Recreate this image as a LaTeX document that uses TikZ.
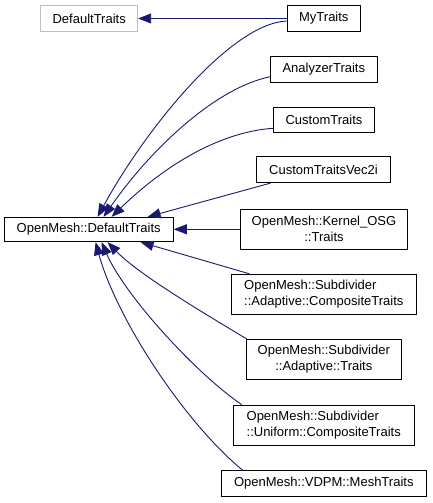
\documentclass[tikz,border=0pt]{standalone}
\usepackage{fontspec}
\setmainfont{Liberation Sans}
\usetikzlibrary{arrows.meta,calc}
\definecolor{edgeblue}{HTML}{191970}
\definecolor{graybd}{HTML}{BFBFBF}
\begin{document}
\begin{tikzpicture}[x=1pt,y=-1pt,
  cls/.style={draw=black, line width=0.9pt, inner sep=0pt, font=\fontsize{13}{16}\selectfont, minimum height=25.5pt, fill=white},
  cls2/.style={cls, minimum height=40pt},
  edge/.style={draw=edgeblue, line width=0.9pt, -{Triangle[length=13pt,width=10pt,fill=edgeblue]}}]
\useasboundingbox (0,0) rectangle (432,503);
\fill[white] (0,0) rectangle (432,503);
\node[cls, draw=graybd, minimum width=97pt] (dt) at (89.2,18.5) {DefaultTraits};
\node[cls, minimum width=73.7pt] (my) at (323.8,18.5) {MyTraits};
\node[cls, minimum width=106.3pt] (an) at (323.8,69.2) {AnalyzerTraits};
\node[cls, minimum width=101.4pt] (cu) at (324,120) {CustomTraits};
\node[cls, minimum width=134.4pt, minimum height=26.5pt] (v2) at (323.5,169.4) {CustomTraitsVec2i};
\node[cls, minimum width=169.3pt, minimum height=24.4pt] (odt) at (88.7,229.5) {OpenMesh::DefaultTraits};
\node[cls2, minimum width=166.6pt, align=center] (osg) at (324,229.3) {OpenMesh::Kernel\_OSG\\::Traits};
\node[cls2, minimum width=185pt, align=left] (acp) at (323.8,294.3) {OpenMesh::Subdivider\\::Adaptive::CompositeTraits};
\node[cls2, minimum width=155pt, align=center] (atr) at (323.8,359.3) {OpenMesh::Subdivider\\::Adaptive::Traits};
\node[cls2, minimum width=180.7pt, align=left] (ucp) at (323.7,425) {OpenMesh::Subdivider\\::Uniform::CompositeTraits};
\node[cls, minimum width=205.7pt] (vdpm) at (323.8,483.3) {OpenMesh::VDPM::MeshTraits};

\draw[edge] (my.west) -- (dt.east);
\draw[edge] ($(my.west)+(0,2.5)$) .. controls (230,24) and (145,130) .. ($(odt.north west)+(94,0)$);
\draw[edge] ($(an.west)+(0,7.5)$) .. controls (215,88) and (150,150) .. ($(odt.north west)+(100,0)$);
\draw[edge] ($(cu.west)+(0,8.3)$) .. controls (220,132) and (165,165) .. ($(odt.north west)+(108,0)$);
\draw[edge] ($(v2.south west)+(14.7,0)$) -- ($(odt.north west)+(144,0)$);
\draw[edge] (osg.west) -- (odt.east |- osg.west);
\draw[edge] ($(acp.north west)+(18.7,0)$) -- ($(odt.south west)+(137,0)$);
\draw[edge] ($(atr.north west)+(0.7,0)$) .. controls (202,312) and (138,274) .. ($(odt.south west)+(104,0)$);
\draw[edge] ($(ucp.north west)+(8.7,0)$) .. controls (194,372) and (124,294) .. ($(odt.south west)+(98,0)$);
\draw[edge] ($(vdpm.north west)+(22,0)$) .. controls (183,421) and (116,317) .. ($(odt.south west)+(92,0)$);
\end{tikzpicture}
\end{document}
